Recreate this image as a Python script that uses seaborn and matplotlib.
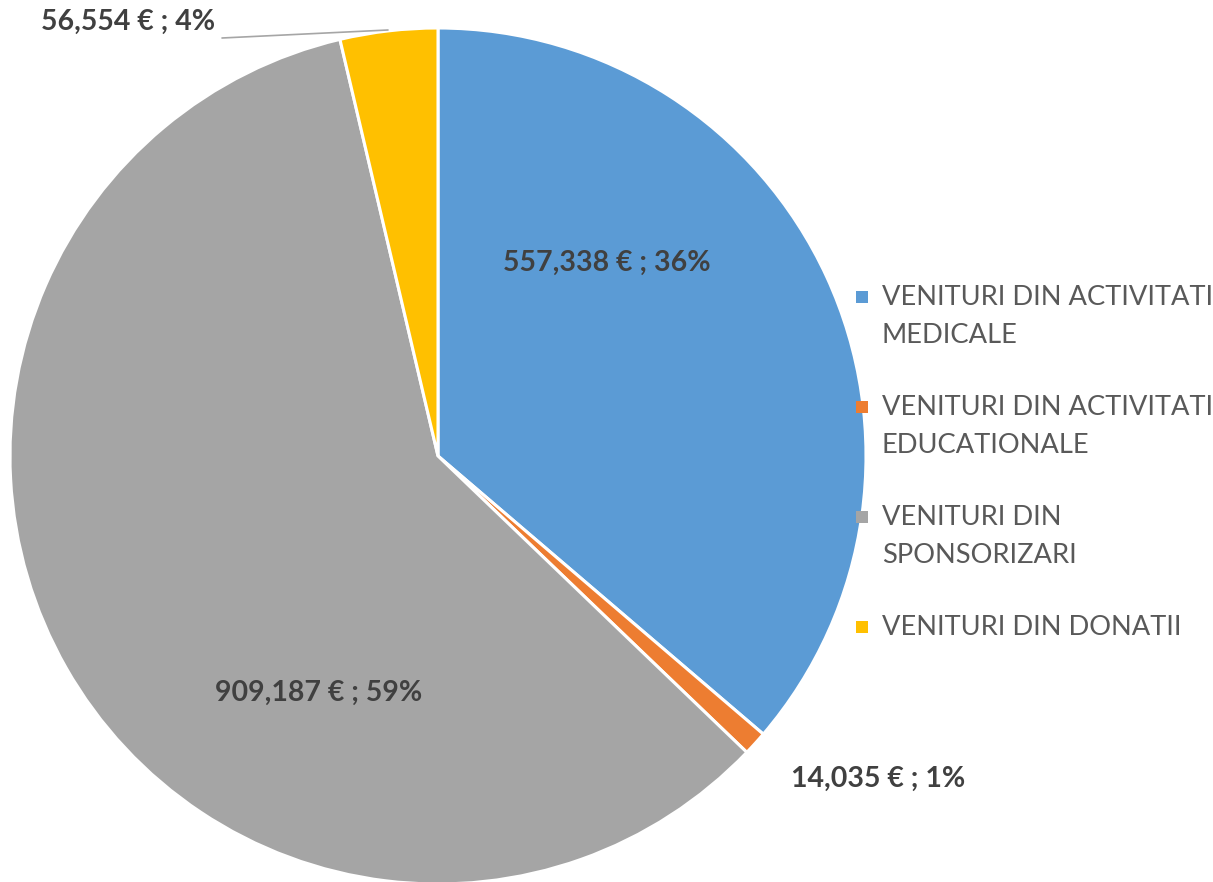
import matplotlib
matplotlib.use("Agg")
import matplotlib.pyplot as plt
import seaborn as sns
from matplotlib.patches import Rectangle

# data
categories = [
    "VENITURI DIN ACTIVITATI\nMEDICALE",
    "VENITURI DIN ACTIVITATI\nEDUCATIONALE",
    "VENITURI DIN\nSPONSORIZARI",
    "VENITURI DIN DONATII",
]
values = [557338, 14035, 909187, 56554]
percent_labels = ["36%", "1%", "59%", "4%"]
colors = ["#5B9BD5", "#ED7D31", "#A5A5A5", "#FFC000"]

sns.set_theme(style="white")
plt.rcParams["font.family"] = ["Lato", "DejaVu Sans"]

W, H = 1213, 882
fig = plt.figure(figsize=(W / 100, H / 100), dpi=100)
ax = fig.add_axes([0, 0, 1, 1])

# pie, starting at 12 o'clock, clockwise (y axis inverted -> counterclock=True gives clockwise)
center = (438, 456)
radius = 428
wedges, _ = ax.pie(values, colors=colors, startangle=-90, counterclock=True,
                   center=center, radius=radius,
                   wedgeprops=dict(edgecolor="white", linewidth=2.2))
ax.set_xlim(0, W)
ax.set_ylim(H, 0)  # pixel-like coordinates, y down
ax.set_aspect("equal")
ax.axis("off")

# data labels
label_pos = [(607, 263), (878, 779), (319, 693), (128, 22)]
for v, p, pos in zip(values, percent_labels, label_pos):
    ax.text(pos[0], pos[1], f"{v:,} € ; {p}", ha="center", va="center",
            fontsize=20.5, fontweight="bold", color="#404040")

# leader line for the small slice
ax.plot([222, 388], [38, 30], color="#A6A6A6", linewidth=1.2)

# legend, drawn by hand so the marker sits on the first line
leg_y = [297, 407, 517, 627]
for lab, c, y in zip(categories, colors, leg_y):
    ax.add_patch(Rectangle((856, y - 6), 12, 12, facecolor=c, edgecolor="none"))
    ax.text(882, y - 12, lab, ha="left", va="top", fontsize=19.6,
            color="#595959", linespacing=1.63)

fig.savefig("out.png", dpi=100)
